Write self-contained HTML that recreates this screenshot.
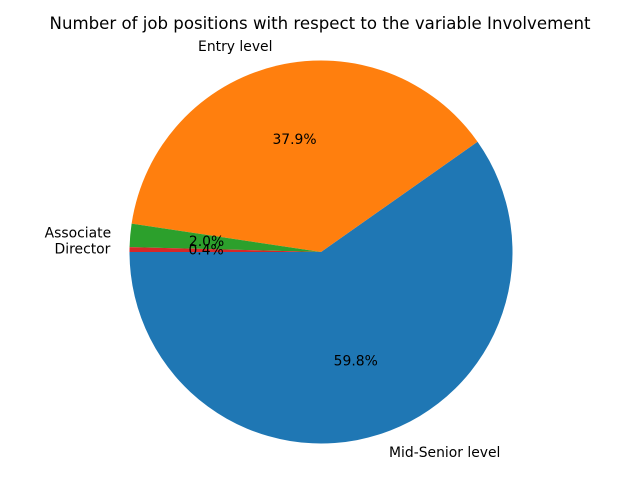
<!DOCTYPE html>
<html><head><meta charset="utf-8"><style>
body{margin:0;background:#fff;}
svg text{font-family:"DejaVu Sans","Liberation Sans",sans-serif;white-space:pre;}
</style></head><body>
<svg id="chart" width="640" height="480" viewBox="0 0 640 480" xmlns="http://www.w3.org/2000/svg">
<rect width="640" height="480" fill="#fff"/>
<text x="320" y="29" text-anchor="middle" font-size="16.6" fill="#000">Number of job positions with respect to the variable Involvement</text>
<g id="slices"></g>
</svg>
<script>
const categories = [" Mid-Senior level", " Entry level", " Associate", " Director"];
const values = [5977, 3786, 196, 41];
const colors = ["#1f77b4", "#ff7f0e", "#2ca02c", "#d62728"];
const startAngle = 180;

const cx = 321, cy = 252, r = 191.5;
const g = document.getElementById('slices');
const NS = "http://www.w3.org/2000/svg";
const total = values.reduce((a, b) => a + b, 0);
let a0 = startAngle;
function pt(deg, rad) {
  const t = deg * Math.PI / 180;
  return [cx + rad * Math.cos(t), cy - rad * Math.sin(t)];
}
values.forEach((v, i) => {
  const span = v / total * 360;
  const a1 = a0 + span;
  const p0 = pt(a0, r), p1 = pt(a1, r);
  const large = span > 180 ? 1 : 0;
  const path = document.createElementNS(NS, 'path');
  path.setAttribute('d', `M${cx},${cy} L${p0[0]},${p0[1]} A${r},${r} 0 ${large} 0 ${p1[0]},${p1[1]} Z`);
  path.setAttribute('fill', colors[i]);
  
  
  g.appendChild(path);
  const mid = (a0 + a1) / 2;
  const lp = pt(mid, r * 1.1);
  const lab = document.createElementNS(NS, 'text');
  lab.setAttribute('x', lp[0]);
  lab.setAttribute('y', lp[1] + 4);
  lab.setAttribute('font-size', '13.9');
  lab.setAttribute('xml:space', 'preserve');
  lab.setAttribute('text-anchor', Math.cos(mid * Math.PI / 180) >= 0 ? 'start' : 'end');
  lab.textContent = categories[i];
  
  
  g.appendChild(lab);
  const pp = pt(mid, r * 0.6);
  const pct = document.createElementNS(NS, 'text');
  pct.setAttribute('x', pp[0]);
  pct.setAttribute('y', pp[1] + 4);
  pct.setAttribute('font-size', '13.9');
  pct.setAttribute('text-anchor', 'middle');
  pct.textContent = (v / total * 100).toFixed(1) + '%';
  
  
  g.appendChild(pct);
  a0 = a1;
});
</script>
</body></html>
